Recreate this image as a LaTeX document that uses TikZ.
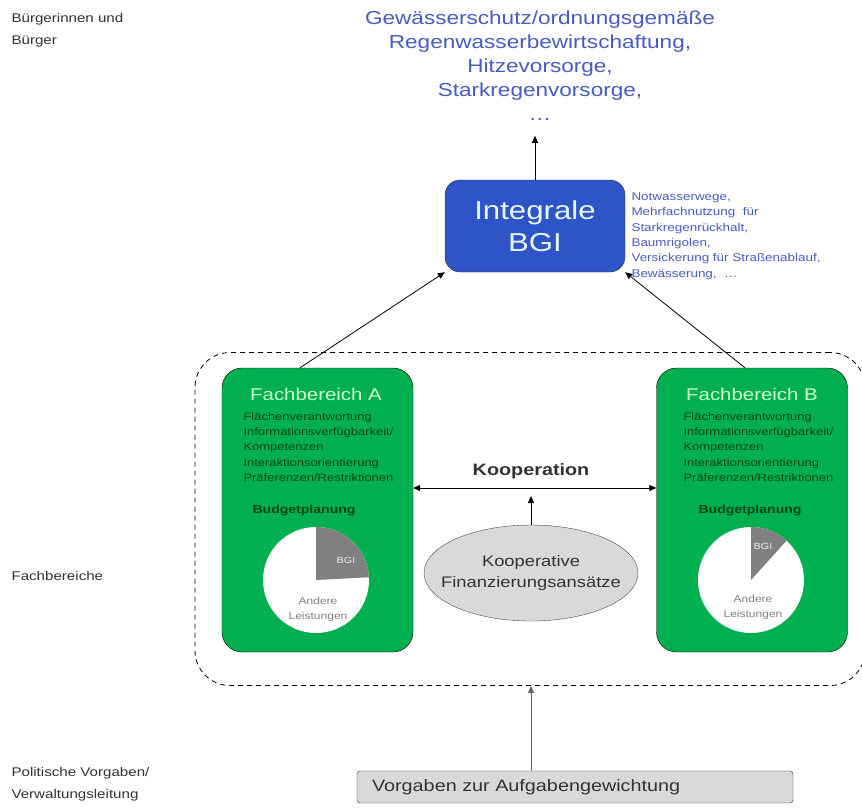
\documentclass[tikz,border=0pt]{standalone}
\usepackage{fontspec}
\setmainfont[FakeStretch=1.2]{Liberation Sans}
\usetikzlibrary{shapes.geometric,arrows.meta}
\definecolor{fbgreen}{RGB}{0,176,80}
\definecolor{bgiblue}{RGB}{46,84,200}
\definecolor{zielblau}{RGB}{72,92,190}
\definecolor{fbtitel}{RGB}{205,255,205}
\definecolor{fbschrift}{RGB}{0,70,20}
\definecolor{tortengrau}{RGB}{128,128,128}
\definecolor{kastengrau}{RGB}{217,217,217}
\definecolor{textgrau}{RGB}{50,50,50}
\tikzset{
  ebene/.style={anchor=west, align=left, text=textgrau, font=\fontsize{12.6}{22}\selectfont},
  fbkasten/.style={draw, fill=fbgreen, rounded corners=20pt, minimum width=191pt, minimum height=284pt},
  fbtitelschrift/.style={text=fbtitel, font=\fontsize{17}{20}\selectfont},
  fbliste/.style={anchor=north west, align=left, text=fbschrift, font=\fontsize{10.8}{15.3}\selectfont},
  budget/.style={anchor=west, text=fbschrift, font=\bfseries\fontsize{11.7}{14}\selectfont},
  torte/.style={circle, fill=white, minimum size=106pt, inner sep=0pt},
  tortentext/.style={text=tortengrau, align=center, font=\fontsize{10}{15}\selectfont},
  pfeil/.style={-{Triangle[length=7pt,width=6pt]}, thick},
}
\begin{document}
\begin{tikzpicture}[x=1pt,y=1pt]
\useasboundingbox (0,0) rectangle (862,-807);
% Ebenen
\node[ebene] (buerger) at (8,-30) {Bürgerinnen und\\Bürger};
\node[ebene] (fachbereiche) at (8,-576) {Fachbereiche};
\node[ebene] (politik) at (8,-784) {Politische Vorgaben/\\Verwaltungsleitung};
% Ziele oben
\node[align=center, text=zielblau, font=\fontsize{18.8}{24}\selectfont] (ziele) at (540,-66)
  {Gewässerschutz/ordnungsgemäße\\Regenwasserbewirtschaftung,\\Hitzevorsorge,\\Starkregenvorsorge,\\\dots};
% Integrale BGI
\node[draw=black!80, fill=bgiblue, rounded corners=15pt, minimum width=180pt, minimum height=92pt,
  text=white!90!cyan, align=center, font=\fontsize{26}{32}\selectfont] (bgi) at (535,-226) {Integrale\\BGI};
\node[anchor=north west, align=left, text=zielblau, font=\fontsize{11.2}{15.4}\selectfont] (massnahmen) at (628,-189)
  {Notwasserwege,\\Mehrfachnutzung\ \ für\\Starkregenrückhalt,\\Baumrigolen,\\Versickerung für Straßenablauf,\\Bewässerung,\ \ \dots};
% Rahmen Fachbereiche
\node[draw, dash pattern=on 5pt off 4pt, thick, rounded corners=35pt, minimum width=670pt, minimum height=333pt] (rahmen) at (530,-519) {};
% Fachbereich A
\node[fbkasten] (fbA) at (317.5,-510) {};
\node[fbtitelschrift] (titelA) at (316,-394) {Fachbereich A};
\node[fbliste] (listeA) at (240,-409) {Flächenverantwortung\\Informationsverfügbarkeit/\\Kompetenzen\\Interaktionsorientierung\\Präferenzen/Restriktionen};
\node[budget] (budgetA) at (249,-510) {Budgetplanung};
\node[torte] (torteA) at (316,-580) {};
\fill[tortengrau] (torteA.center) -- ++(3:53) arc (3:90:53) -- cycle;
\node[text=white!85!gray, font=\fontsize{9}{11}\selectfont] (bgiA) at (346,-560) {BGI};
\node[tortentext] (andereA) at (318,-609) {Andere\\Leistungen};
% Fachbereich B
\node[fbkasten, minimum width=191pt] (fbB) at (752,-510) {};
\node[fbtitelschrift] (titelB) at (752,-394) {Fachbereich B};
\node[fbliste] (listeB) at (680,-409) {Flächenverantwortung\\Informationsverfügbarkeit/\\Kompetenzen\\Interaktionsorientierung\\Präferenzen/Restriktionen};
\node[budget] (budgetB) at (695,-510) {Budgetplanung};
\node[torte] (torteB) at (751,-580) {};
\fill[tortengrau] (torteB.center) -- ++(48:53) arc (48:90:53) -- cycle;
\node[text=white!85!gray, font=\fontsize{9}{11}\selectfont] (bgiB) at (763,-546) {BGI};
\node[tortentext] (andereB) at (753,-607) {Andere\\Leistungen};
% Kooperation
\node[font=\bfseries\fontsize{16.5}{19}\selectfont, text=textgrau] (koop) at (531,-471) {Kooperation};
\node[ellipse, draw=black!70, fill=kastengrau, minimum width=214pt, minimum height=96pt, inner xsep=-15pt, inner ysep=0pt,
  align=center, text=textgrau, font=\fontsize{15.3}{21}\selectfont] (finanz) at (531,-573) {Kooperative\\Finanzierungsansätze};
\coordinate (koopmitte) at (531,-496);
% Vorgaben
\node[draw=black!80, fill=kastengrau, rounded corners=3pt, text width=406pt, inner xsep=15pt, minimum height=32pt,
  align=left, text=textgrau, font=\fontsize{16.5}{19}\selectfont] (vorgaben) at (575,-787) {Vorgaben zur Aufgabengewichtung};
% Pfeile
\draw[pfeil] (bgi.north) -- ++(0,44) coordinate (zielpunkt);
\draw[pfeil] (fbA.north -| 300,0) -- (bgi.south west);
\draw[pfeil] (fbB.north -| 745,0) -- (bgi.south east);
\draw[{Triangle[length=7pt,width=6pt]}-{Triangle[length=7pt,width=6pt]}, thick] (fbA.east |- 0,-488) -- (fbB.west |- 0,-488);
\draw[pfeil] (finanz.north) -- (koopmitte);
\draw[pfeil, black!60] (vorgaben.north -| finanz) -- (rahmen.south -| finanz);
\end{tikzpicture}
\end{document}
